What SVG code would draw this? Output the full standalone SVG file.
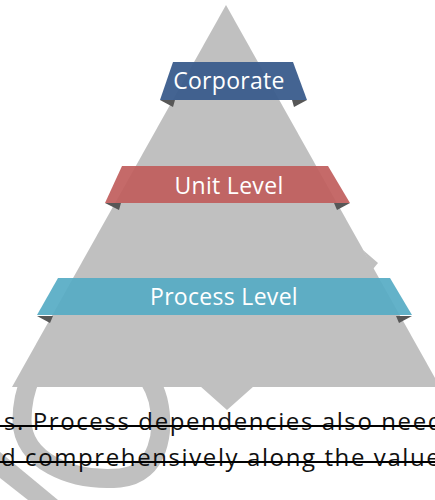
<svg xmlns="http://www.w3.org/2000/svg" width="435" height="500" viewBox="0 0 435 500">
  <style>
    .grey { fill: #c0c0c0; }
    .ring { fill: none; stroke: #c0c0c0; stroke-width: 19; }
    .fold { fill: #575757; }
    .label { font-family: "Open Sans", "Liberation Sans", sans-serif; font-size: 23px; fill: #ffffff; text-anchor: middle; letter-spacing: 0.3px; }
    .body { font-family: "Open Sans", "Liberation Sans", sans-serif; font-size: 24px; fill: #111111; letter-spacing: 1.6px; }
    .strike { stroke: #000000; stroke-width: 2; }
  </style>
  <rect width="435" height="500" fill="#ffffff"/>

  <g id="watermark">
    <path class="ring" d="M 60,335 C 35,360 22,390 22,420 C 22,460 70,482 120,478 C 160,474 165,430 158,400 C 150,370 125,350 100,345 Z"/>
    <polygon class="grey" points="0,452 58,500 28,500 0,478"/>
    <polygon class="grey" points="200,386 254,386 227,410"/>
    <polygon class="grey" points="363,250 378,263 373,269"/>
  </g>

  <g id="pyramid">
    <polygon class="grey" points="226,5 440,387 12,387"/>
    <polygon class="grey" points="219,386 233,386 226,391"/>
  </g>

  <g id="text-lines">
    <text class="body" x="4" y="430">s. Process dependencies also need</text>
    <line class="strike" x1="0" y1="426" x2="435" y2="426"/>
    <text class="body" x="1" y="466">d comprehensively along the value</text>
    <line class="strike" x1="0" y1="462" x2="435" y2="462"/>
  </g>

  <g id="corporate">
    <polygon class="fold" points="160,100 175,100 173,107"/>
    <polygon class="fold" points="292,100 307,100 294,107"/>
    <polygon points="173,62 293,62 307,100 160,100" fill="#3a5c8c" fill-opacity="0.95"/>
    <text class="label" x="229" y="89">Corporate</text>
  </g>

  <g id="unit-level">
    <polygon class="fold" points="105,203 121,203 119,210"/>
    <polygon class="fold" points="334,203 350,203 337,210"/>
    <polygon points="122,166 328,166 350,203 105,203" fill="#c05d5c" fill-opacity="0.92"/>
    <text class="label" x="229" y="194">Unit Level</text>
  </g>

  <g id="process-level">
    <polygon class="fold" points="37,316 53,316 50,323"/>
    <polygon class="fold" points="396,316 412,316 399,323"/>
    <polygon points="58,278 390,278 412,315 37,315" fill="#56abc4" fill-opacity="0.92"/>
    <text class="label" x="224" y="305">Process Level</text>
  </g>
</svg>
